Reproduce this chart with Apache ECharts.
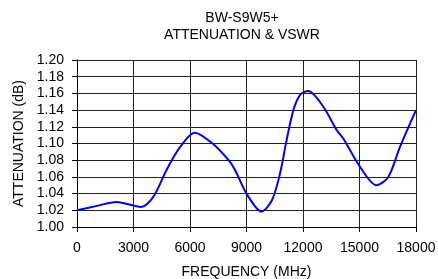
<!DOCTYPE html>
<html>
<head>
<meta charset="utf-8">
<script src="https://cdn.jsdelivr.net/npm/echarts@6/dist/echarts.min.js"></script>
<style>
  html, body { margin: 0; padding: 0; background: #fff; }
  #chart { width: 438px; height: 279px; }
</style>
</head>
<body>
<div id="chart"></div>
<script>
// frequency in MHz, attenuation in dB
const freqs = [0, 1000, 2100, 3400, 4050, 4750, 5450, 6250, 7200, 8050, 8400, 9000, 9800, 10350, 10780, 11130, 11490, 11840, 12280, 13080, 13790, 14140, 15030, 15900, 16530, 17150, 18000];
const atten = [1.020, 1.025, 1.030, 1.024, 1.036, 1.068, 1.095, 1.113, 1.100, 1.080, 1.068, 1.040, 1.0185, 1.032, 1.064, 1.104, 1.140, 1.158, 1.163, 1.144, 1.116, 1.106, 1.072, 1.050, 1.060, 1.096, 1.140];

const titleLines = ['BW-S9W5+', 'ATTENUATION & VSWR'];
const xName = 'FREQUENCY (MHz)';
const yName = 'ATTENUATION (dB)';

const font = 'Liberation Sans, Arial, sans-serif';

const myChart = echarts.init(document.getElementById('chart'));

const option = {
  animation: false,
  title: {
    text: titleLines.join('\n'),
    left: 237,
    top: 5,
    textAlign: 'center',
    textStyle: {
      fontFamily: font,
      fontSize: 14,
      fontWeight: 'normal',
      color: '#000',
      lineHeight: 17
    }
  },
  grid: {
    left: 77,
    right: 22,
    top: 60,
    bottom: 52,
    outerBoundsMode: 'none',
    containLabel: false
  },
  xAxis: {
    type: 'value',
    min: 0,
    max: 18000,
    interval: 3000,
    name: xName,
    nameLocation: 'middle',
    nameGap: 38,
    nameTextStyle: { fontFamily: font, fontSize: 14, color: '#000' },
    axisLine: { lineStyle: { color: '#000', width: 1 } },
    axisTick: { show: true, length: 5, lineStyle: { color: '#000' } },
    axisLabel: {
      fontFamily: font, fontSize: 14, color: '#000', margin: 14,
      formatter: v => String(v)
    },
    splitLine: { show: true, lineStyle: { color: '#222', width: 1 } }
  },
  yAxis: {
    type: 'value',
    min: 1.0,
    max: 1.2,
    interval: 0.02,
    name: yName,
    nameLocation: 'middle',
    nameGap: 45,
    nameTextStyle: { fontFamily: font, fontSize: 14, color: '#000' },
    axisLine: { show: true, lineStyle: { color: '#000', width: 1 } },
    axisTick: { show: true, length: 5, lineStyle: { color: '#000' } },
    axisLabel: {
      fontFamily: font, fontSize: 14, color: '#000', margin: 13,
      formatter: v => v.toFixed(2)
    },
    splitLine: { show: true, lineStyle: { color: '#222', width: 1 } }
  },
  series: [
    {
      type: 'line',
      data: freqs.map((f, i) => [f, atten[i]]),
      smooth: 0.3,
      showSymbol: false,
      lineStyle: { color: '#0000ff', width: 2 }
    }
  ]
};

myChart.setOption(option);
</script>
</body>
</html>
